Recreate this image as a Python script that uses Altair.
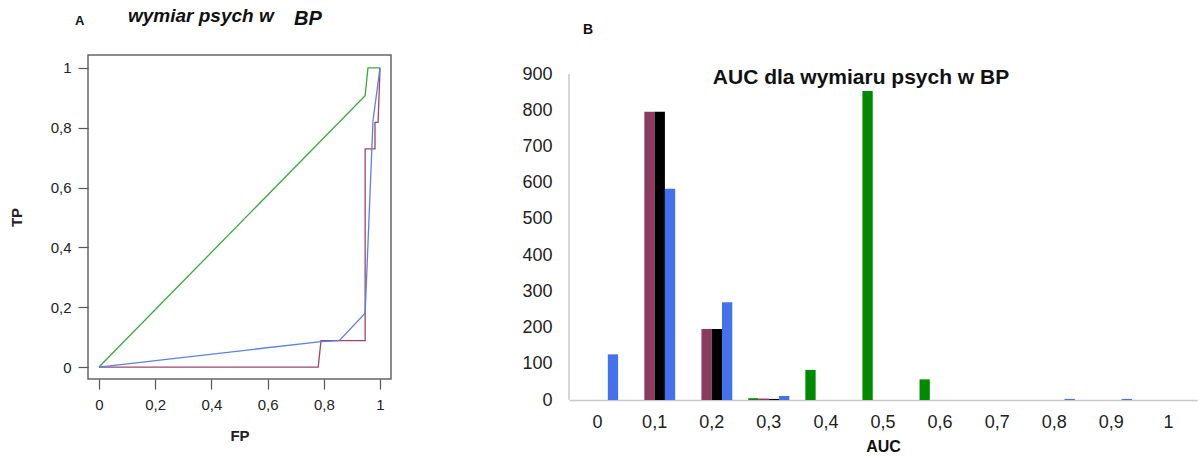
import altair as alt
import pandas as pd

# ---------------- Panel A: ROC curves ----------------
green_fp = [0.0, 0.947, 0.957, 1.0]
green_tp = [0.0, 0.907, 1.0, 1.0]
maroon_fp = [0.0, 0.78, 0.79, 0.947, 0.947, 0.982, 0.982, 0.993, 1.0]
maroon_tp = [0.0, 0.0, 0.088, 0.088, 0.729, 0.729, 0.818, 0.818, 1.0]
blue_fp = [0.0, 0.79, 0.855, 0.947, 0.975, 1.0]
blue_tp = [0.0, 0.085, 0.088, 0.18, 0.824, 1.0]
roc_names = ["r1", "r2", "r3"]
roc_colors = ["#3aaa3a", "#9e4469", "#5a7ff0"]
axis_ticks_A = [0, 0.2, 0.4, 0.6, 0.8, 1]

# ---------------- Panel B: AUC histogram ----------------
auc_bins = ["0", "0,1", "0,2", "0,3", "0,4", "0,5", "0,6", "0,7", "0,8", "0,9", "1"]
green_vals = [0, 0, 0, 5, 83, 853, 57, 0, 0, 0, 0]
maroon_vals = [0, 796, 196, 4, 0, 0, 0, 0, 0, 0, 0]
black_vals = [0, 796, 196, 3, 0, 0, 0, 0, 0, 0, 0]
blue_vals = [126, 583, 270, 11, 0, 0, 0, 0, 3, 3, 0]
bar_names = ["s1", "s2", "s3", "s4"]
bar_colors = ["#008a00", "#8b3a60", "#000000", "#4571ec"]
y_ticks_B = [0, 100, 200, 300, 400, 500, 600, 700, 800, 900]

# build tables
rowsA = []
for name, fps, tps in zip(roc_names, [green_fp, maroon_fp, blue_fp], [green_tp, maroon_tp, blue_tp]):
    for i, (fx, ty) in enumerate(zip(fps, tps)):
        rowsA.append({"seria": name, "FP": fx, "TP": ty, "idx": i})
dfA = pd.DataFrame(rowsA)

rowsB = []
for i, b in enumerate(auc_bins):
    for name, vals in zip(bar_names, [green_vals, maroon_vals, black_vals, blue_vals]):
        rowsB.append({"AUC": b, "grupa": name, "n": vals[i]})
dfB = pd.DataFrame(rowsB)

FONT = "Liberation Sans"
comma = "replace(format(datum.value, '~g'), '.', ',')"

# ---------------- Panel A chart ----------------
linesA = alt.Chart(dfA).mark_line(strokeWidth=1.3).encode(
    x=alt.X("FP:Q",
            scale=alt.Scale(domain=[-0.039, 1.039], nice=False, zero=False),
            axis=alt.Axis(values=axis_ticks_A, labelExpr=comma, title="FP", grid=False,
                          domain=False, tickSize=10, tickColor="#555", tickWidth=1.2,
                          labelFontSize=15, labelColor="#222", labelPadding=8,
                          titleFontSize=15, titleFontWeight="bold", titleColor="#222",
                          titlePadding=16, labelFlush=False, labelOverlap=False)),
    y=alt.Y("TP:Q",
            scale=alt.Scale(domain=[-0.040, 1.043], nice=False, zero=False),
            axis=alt.Axis(values=axis_ticks_A, labelExpr=comma, title="TP", grid=False,
                          domain=False, tickSize=10, tickColor="#555", tickWidth=1.2,
                          labelFontSize=15, labelColor="#222", labelPadding=7,
                          titleFontSize=15, titleFontWeight="bold", titleColor="#222",
                          titlePadding=26, labelFlush=False, labelOverlap=False)),
    color=alt.Color("seria:N", sort=roc_names,
                    scale=alt.Scale(domain=roc_names, range=roc_colors), legend=None),
    order="idx:Q",
)

labA = alt.Chart(pd.DataFrame({"t": ["A"]})).mark_text(
    align="left", baseline="alphabetic", fontSize=13, fontWeight="bold", color="#111"
).encode(text="t:N", x=alt.value(-13), y=alt.value(-30))

titleA1 = alt.Chart(pd.DataFrame({"t": ["wymiar psych w"]})).mark_text(
    align="left", baseline="alphabetic", fontSize=19, fontWeight="bold", fontStyle="italic", color="#111"
).encode(text="t:N", x=alt.value(40), y=alt.value(-33))

titleA2 = alt.Chart(pd.DataFrame({"t": ["BP"]})).mark_text(
    align="left", baseline="alphabetic", fontSize=20, fontWeight="bold", fontStyle="italic", color="#111"
).encode(text="t:N", x=alt.value(206), y=alt.value(-30))

panelA = alt.layer(linesA, labA, titleA1, titleA2).properties(
    width=303, height=324,
    view=alt.ViewBackground(stroke="#666", strokeWidth=1.5),
)

# ---------------- Panel B chart ----------------
yscaleB = alt.Scale(domain=[0, 952.5], nice=False)
yaxisSpecB = alt.Axis(values=y_ticks_B, title=None, grid=False, domain=False,
                      ticks=False, tickSize=0, labelPadding=17, labelFontSize=18,
                      labelColor="#222", labelOverlap=False, labelFlush=False)

barsB = alt.Chart(dfB).mark_bar().encode(
    x=alt.X("AUC:N", sort=auc_bins,
            scale=alt.Scale(paddingInner=0.28, paddingOuter=0.14),
            axis=alt.Axis(title="AUC", labelAngle=0, labelFontSize=18, labelColor="#222",
                          labelPadding=13, ticks=False, tickSize=0, domainColor="#c8c8c8",
                          domainWidth=1.5, titleFontSize=16, titleFontWeight="bold",
                          titleColor="#111", titlePadding=7, labelOverlap=False)),
    xOffset=alt.XOffset("grupa:N", sort=bar_names,
                        scale=alt.Scale(paddingInner=0, paddingOuter=0)),
    y=alt.Y("n:Q", scale=yscaleB, axis=yaxisSpecB),
    color=alt.Color("grupa:N", sort=bar_names,
                    scale=alt.Scale(domain=bar_names, range=bar_colors), legend=None),
)

axis_line = pd.DataFrame({"top": [900], "bottom": [0]})
yaxisB = alt.Chart(axis_line).mark_rule(color="#c8c8c8", strokeWidth=1.5).encode(
    x=alt.value(0),
    y=alt.Y("top:Q", scale=yscaleB, axis=yaxisSpecB),
    y2="bottom:Q",
)

labB = alt.Chart(pd.DataFrame({"t": ["B"]})).mark_text(
    align="left", baseline="alphabetic", fontSize=14, fontWeight="bold", color="#111"
).encode(text="t:N", x=alt.value(14), y=alt.value(-21))

titleB = alt.Chart(pd.DataFrame({"t": ["AUC dla wymiaru psych w BP"]})).mark_text(
    align="center", baseline="alphabetic", fontSize=21, fontWeight="bold", color="#111"
).encode(text="t:N", x=alt.value(292), y=alt.value(29))

panelB = alt.layer(barsB, yaxisB, labB, titleB).properties(
    width=628, height=345,
    view=alt.ViewBackground(stroke="transparent"),
)

chart = alt.hconcat(panelA, panelB, spacing=178, bounds="flush").resolve_scale(
    color="independent"
).properties(
    padding={"left": 8, "top": 6, "right": 0, "bottom": 0}
).configure(font=FONT).configure_view(stroke="transparent").configure_axis(
    labelOverlap=False
)

chart.save("out.html", embed_options={"renderer": "svg", "actions": False})
